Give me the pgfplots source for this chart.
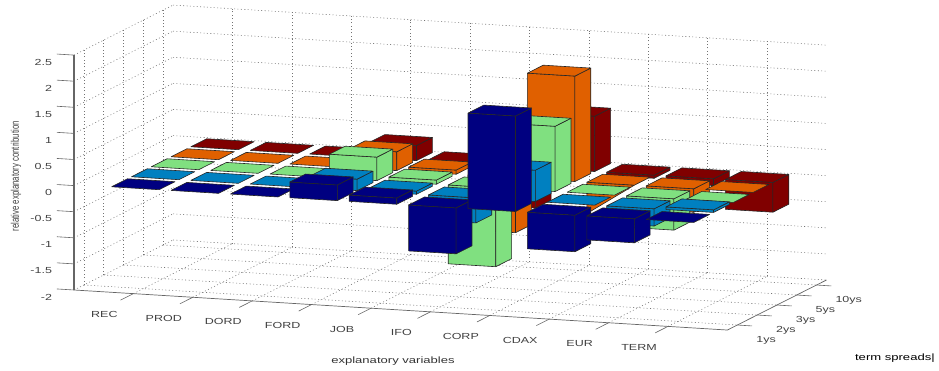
\documentclass[border=0pt]{standalone}
\usepackage{graphicx}
\usepackage{fontspec}
\setmainfont{Liberation Sans}[FakeStretch=1.42]
\newfontfamily\plainf{Liberation Sans}
\usepackage{pgfplots}
\pgfplotsset{compat=1.18}

\definecolor{cA}{HTML}{000080}
\definecolor{cB}{HTML}{0080C0}
\definecolor{cC}{HTML}{80E080}
\definecolor{cD}{HTML}{E06000}
\definecolor{cE}{HTML}{800000}
\definecolor{axgray}{HTML}{666666}

\pgfplotsset{bface/.style={draw=black!85,line width=0.6pt,fill=#1,mark=none,forget plot,line join=round}}

% one bar: x position, y position, value, colour
\newcommand{\bb}[4]{%
  \pgfmathsetmacro\xa{#1-0.4}\pgfmathsetmacro\xb{#1+0.4}%
  \pgfmathsetmacro\ya{#2-0.4}\pgfmathsetmacro\yb{#2+0.4}%
  \pgfmathsetmacro\zt{max(#3,0)}\pgfmathsetmacro\zb{min(#3,0)}%
  \ifdim #3pt=0pt\else
    \addplot3[bface=#4] coordinates {(\xa,\ya,\zb)(\xb,\ya,\zb)(\xb,\ya,\zt)(\xa,\ya,\zt)(\xa,\ya,\zb)};
    \addplot3[bface=#4] coordinates {(\xb,\ya,\zb)(\xb,\yb,\zb)(\xb,\yb,\zt)(\xb,\ya,\zt)(\xb,\ya,\zb)};
  \fi
  \addplot3[bface=#4] coordinates {(\xa,\ya,\zt)(\xb,\ya,\zt)(\xb,\yb,\zt)(\xa,\yb,\zt)(\xa,\ya,\zt)};
}

\begin{document}
\begin{tikzpicture}
\begin{axis}[
    x={(59.4pt,-3.64pt)}, y={(19.8pt,10pt)}, z={(0pt,52.2pt)},
    xmin=0, xmax=11, ymin=0.5, ymax=5.5, zmin=-2, zmax=2.5,
    clip=false,
    axis line style={draw=none},
    major tick length=0pt,
    grid=major,
    grid style={line width=0.55pt,dash pattern=on 1pt off 2.4pt,draw=black!55},
    xtick={1,...,10},
    xticklabels={REC,PROD,DORD,FORD,JOB,IFO,CORP,CDAX,EUR,TERM},
    ytick={1,...,5},
    yticklabels={1ys,2ys,3ys,5ys,10ys},
    ztick={-2,-1.5,-1,-0.5,0,0.5,1,1.5,2,2.5},
    zticklabels={-2,-1.5,-1,-0.5,0,0.5,1,1.5,2,2.5},
    tick label style={font=\fontsize{8.8}{10}\selectfont,text=black!75,inner sep=0pt,outer sep=0pt},
    x tick label style={anchor=center,xshift=-29pt,yshift=-21pt},
    y tick label style={anchor=west,xshift=19pt,yshift=-15pt},
    z tick label style={anchor=east,xshift=-22pt,yshift=-7pt},
    xlabel={explanatory variables},
    xlabel style={at={(axis cs:5.37,0.5,-2.99)},anchor=center,font=\fontsize{9.2}{10}\selectfont,text=black!80,inner sep=0pt},
    ylabel={term spreads|},
    ylabel style={at={(axis cs:13.82,0.5,-2.34)},anchor=center,rotate=0,font=\fontsize{9.2}{10}\selectfont,text=black,inner sep=0pt},
    zlabel={\scalebox{1}[1.42]{\plainf\fontsize{7.8}{9}\selectfont relative explanatory contribution}},
    zlabel style={at={(axis cs:-0.976,0.5,0.11)},anchor=center,text=black!75,inner sep=0pt},
]
% 10ys
\bb{1}{5}{0}{cE}\bb{2}{5}{0}{cE}\bb{3}{5}{0}{cE}\bb{4}{5}{0.29}{cE}\bb{5}{5}{0.03}{cE}
\bb{6}{5}{-0.77}{cE}\bb{7}{5}{1.06}{cE}\bb{8}{5}{-0.06}{cE}\bb{9}{5}{-0.13}{cE}\bb{10}{5}{-0.57}{cE}
% 5ys
\bb{1}{4}{0}{cD}\bb{2}{4}{0}{cD}\bb{3}{4}{0}{cD}\bb{4}{4}{0.36}{cD}\bb{5}{4}{0.08}{cD}
\bb{6}{4}{-1.05}{cD}\bb{7}{4}{2.02}{cD}
% CDAX 5ys shows only a wedge of its front face in the picture
\addplot3[bface=cD] coordinates {(7.6,3.6,-0.6)(8.4,3.6,0)(7.6,3.6,0)(7.6,3.6,-0.6)};
\bb{8}{4}{0}{cD}\bb{9}{4}{-0.45}{cD}\bb{10}{4}{0}{cD}
% 3ys
\bb{1}{3}{0}{cC}\bb{2}{3}{0}{cC}\bb{3}{3}{0}{cC}\bb{4}{3}{0.45}{cC}\bb{5}{3}{0.08}{cC}
\bb{6}{3}{-1.51}{cC}\bb{7}{3}{1.25}{cC}\bb{8}{3}{0}{cC}\bb{9}{3}{-0.6}{cC}\bb{10}{3}{0}{cC}
% 2ys
\bb{1}{2}{0}{cB}\bb{2}{2}{0}{cB}\bb{3}{2}{0}{cB}\bb{4}{2}{0.22}{cB}\bb{5}{2}{0.06}{cB}
\bb{6}{2}{-0.48}{cB}\bb{7}{2}{0.6}{cB}\bb{8}{2}{0}{cB}\bb{9}{2}{-0.33}{cB}\bb{10}{2}{0.05}{cB}
% 1ys
\bb{1}{1}{0}{cA}\bb{2}{1}{0}{cA}\bb{3}{1}{0}{cA}\bb{4}{1}{0.3}{cA}\bb{5}{1}{0.12}{cA}
\bb{6}{1}{-0.88}{cA}\bb{7}{1}{1.83}{cA}\bb{8}{1}{-0.7}{cA}\bb{9}{1}{-0.46}{cA}\bb{10}{1}{0}{cA}
% axis lines and ticks
\draw[axgray,line width=0.7pt] (axis cs:0,0.5,-2)--(axis cs:11,0.5,-2)--(axis cs:11,5.5,-2);
\draw[axgray,line width=1.1pt] (axis cs:0,0.5,-2)--(axis cs:0,0.5,2.5);
\pgfplotsinvokeforeach{1,...,10}{\draw[axgray,line width=0.6pt] (axis cs:#1,0.5,-2)--(axis cs:#1,-0.15,-2);}
\pgfplotsinvokeforeach{1,...,5}{\draw[axgray,line width=0.6pt] (axis cs:11,#1,-2)--(axis cs:11.25,#1,-2);}
\pgfplotsinvokeforeach{-2,-1.5,...,2.5}{\draw[axgray,line width=0.6pt] (axis cs:0,0.5,#1)--(axis cs:-0.29,0.5,#1);}
\coordinate (O) at (axis cs:0,0.5,-2);
\end{axis}
\pgfresetboundingbox
\useasboundingbox ([shift={(-74pt,-81pt)}]O) rectangle ([shift={(865pt,290pt)}]O);
\end{tikzpicture}
\end{document}
